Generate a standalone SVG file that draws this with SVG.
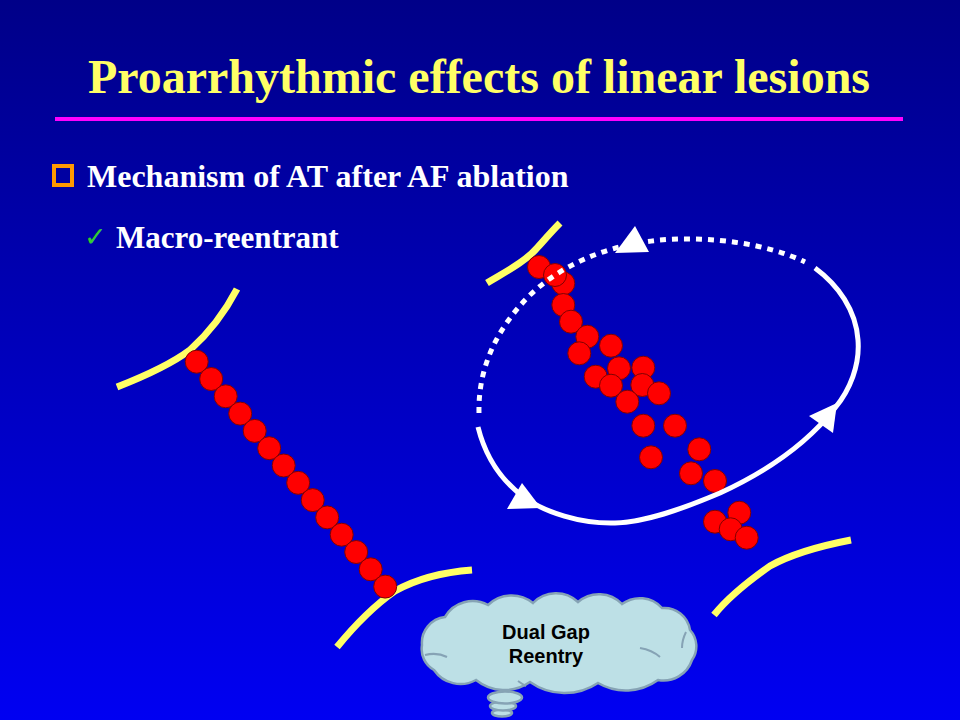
<svg xmlns="http://www.w3.org/2000/svg" width="960" height="720" viewBox="0 0 960 720">
<defs>
<linearGradient id="bg" x1="0" y1="0" x2="0" y2="1">
<stop offset="0" stop-color="#000088"/>
<stop offset="1" stop-color="#0000f2"/>
</linearGradient>
<style>
.ttl{font-family:"Liberation Serif","Times New Roman",serif;font-weight:bold;font-size:48px;fill:#ffff66}
.t1{font-family:"Liberation Serif","Times New Roman",serif;font-weight:bold;font-size:32px;fill:#ffffff}
.t2{font-family:"Liberation Serif","Times New Roman",serif;font-weight:bold;font-size:31px;fill:#ffffff}
.ck{font-family:"DejaVu Sans",sans-serif;font-weight:bold;font-size:27px;fill:#33cc33}
.yl{fill:none;stroke:#ffff66;stroke-width:7}
.dot{fill:#ff0000;stroke:#800000;stroke-width:1}
.loop{fill:none;stroke:#ffffff;stroke-width:5}
.dash{stroke-dasharray:6 6}
.ah{fill:#ffffff}
.cloud{fill:#bde0e6;stroke:#86a3b5;stroke-width:2.5}
.crease{fill:none;stroke:#86a3b5;stroke-width:2}
.ct{font-family:"Liberation Sans",Arial,sans-serif;font-weight:bold;font-size:20px;fill:#000000}
</style>
</defs>
<rect x="0" y="0" width="960" height="720" fill="url(#bg)"/>

<g id="title">
<text class="ttl" x="479" y="93" text-anchor="middle">Proarrhythmic effects of linear lesions</text>
<rect x="55" y="117" width="848" height="4" fill="#ff00ff"/>
</g>

<g id="bullet1">
<rect x="54" y="166" width="18" height="19" fill="none" stroke="#ff9900" stroke-width="4"/>
<text class="t1" x="87" y="187">Mechanism of AT after AF ablation</text>
</g>

<g id="bullet2">
<text class="ck" x="84" y="246">✓</text>
<text class="t2" x="116" y="248">Macro-reentrant</text>
</g>

<g id="left-lesion">
<path class="yl" d="M117,387 C140,378 170,365 190,350 C210,332 225,312 237,289"/>
<path class="yl" d="M337,647 C355,625 375,605 395,591 C420,577 445,572 472,570"/>
<circle class="dot" cx="196.7" cy="361.7" r="11.5"/>
<circle class="dot" cx="211.2" cy="379" r="11.5"/>
<circle class="dot" cx="225.7" cy="396.3" r="11.5"/>
<circle class="dot" cx="240.2" cy="413.6" r="11.5"/>
<circle class="dot" cx="254.7" cy="430.9" r="11.5"/>
<circle class="dot" cx="269.2" cy="448.2" r="11.5"/>
<circle class="dot" cx="283.7" cy="465.5" r="11.5"/>
<circle class="dot" cx="298.2" cy="482.8" r="11.5"/>
<circle class="dot" cx="312.7" cy="500.1" r="11.5"/>
<circle class="dot" cx="327.2" cy="517.4" r="11.5"/>
<circle class="dot" cx="341.7" cy="534.7" r="11.5"/>
<circle class="dot" cx="356.2" cy="552" r="11.5"/>
<circle class="dot" cx="370.7" cy="569.3" r="11.5"/>
<circle class="dot" cx="385.2" cy="586.6" r="11.5"/>
</g>

<g id="right-lesion">
<path class="yl" d="M487,283 C505,272 525,262 537,248 C546,238 553,230 560,223"/>
<path class="yl" d="M714,615 C730,595 750,580 770,566 C795,552 825,545 851,540"/>
<circle class="dot" cx="539" cy="267" r="11.5"/>
<circle class="dot" cx="563.3" cy="283.5" r="11.5"/>
<circle class="dot" cx="555" cy="275" r="11.5"/>
<circle class="dot" cx="563.3" cy="305" r="11.5"/>
<circle class="dot" cx="571" cy="321.7" r="11.5"/>
<circle class="dot" cx="587.3" cy="336.7" r="11.5"/>
<circle class="dot" cx="579.3" cy="353.3" r="11.5"/>
<circle class="dot" cx="611" cy="345.7" r="11.5"/>
<circle class="dot" cx="595.7" cy="376.7" r="11.5"/>
<circle class="dot" cx="619" cy="368.3" r="11.5"/>
<circle class="dot" cx="643.3" cy="367.7" r="11.5"/>
<circle class="dot" cx="611" cy="385.7" r="11.5"/>
<circle class="dot" cx="642.3" cy="385" r="11.5"/>
<circle class="dot" cx="659" cy="393.3" r="11.5"/>
<circle class="dot" cx="627.3" cy="401.7" r="11.5"/>
<circle class="dot" cx="643.3" cy="425.7" r="11.5"/>
<circle class="dot" cx="675" cy="425.7" r="11.5"/>
<circle class="dot" cx="699.3" cy="449.3" r="11.5"/>
<circle class="dot" cx="651" cy="457.3" r="11.5"/>
<circle class="dot" cx="691" cy="473.3" r="11.5"/>
<circle class="dot" cx="715" cy="481" r="11.5"/>
<circle class="dot" cx="739.3" cy="512.7" r="11.5"/>
<circle class="dot" cx="715" cy="521.7" r="11.5"/>
<circle class="dot" cx="730.7" cy="529.3" r="11.5"/>
<circle class="dot" cx="746.7" cy="537.7" r="11.5"/>
</g>

<g id="connectors">
<path class="loop" d="M815,268 C838,285 856,310 858,340 C860,365 850,390 835,408 C810,440 770,470 720,493 C680,510 645,522 615,523 C580,524 545,512 525,498 C500,480 485,455 478,427"/>
<path class="loop dash" d="M479,413 C478,370 495,330 530,295 C565,262 610,245 660,240 C710,236 765,243 805,262"/>
<polygon class="ah" points="635,226 615,253 649,252"/>
<polygon class="ah" points="522,483 507,509 541,508"/>
<polygon class="ah" points="837,403 809,416 833,433"/>
</g>

<g id="cloud">
<ellipse class="cloud" cx="502" cy="713" rx="10" ry="3.5"/>
<ellipse class="cloud" cx="503" cy="706" rx="13" ry="4.5"/>
<ellipse class="cloud" cx="505" cy="697.5" rx="17" ry="6"/>
<path class="cloud" d="M434,670 A24,24 0 0 1 422,645 A26,26 0 0 1 445,617 A32,32 0 0 1 488,605 A34,34 0 0 1 533,603 A32,32 0 0 1 578,602 A32,32 0 0 1 622,604 A30,30 0 0 1 662,608 A26,26 0 0 1 690,630 A24,24 0 0 1 692,660 A30,30 0 0 1 658,680 A55,55 0 0 1 598,683 A60,60 0 0 1 530,682 A45,45 0 0 1 476,680 A32,32 0 0 1 434,670 Z"/>
<path class="crease" d="M425,655 Q437,652 447,657"/>
<path class="crease" d="M640,648 Q652,650 660,657"/>
<path class="crease" d="M686,632 Q682,640 682,648"/>
<path class="crease" d="M518,681 Q522,684 526,686"/>
<text class="ct" x="546" y="639" text-anchor="middle">Dual Gap</text>
<text class="ct" x="546" y="663" text-anchor="middle">Reentry</text>
</g>
</svg>
